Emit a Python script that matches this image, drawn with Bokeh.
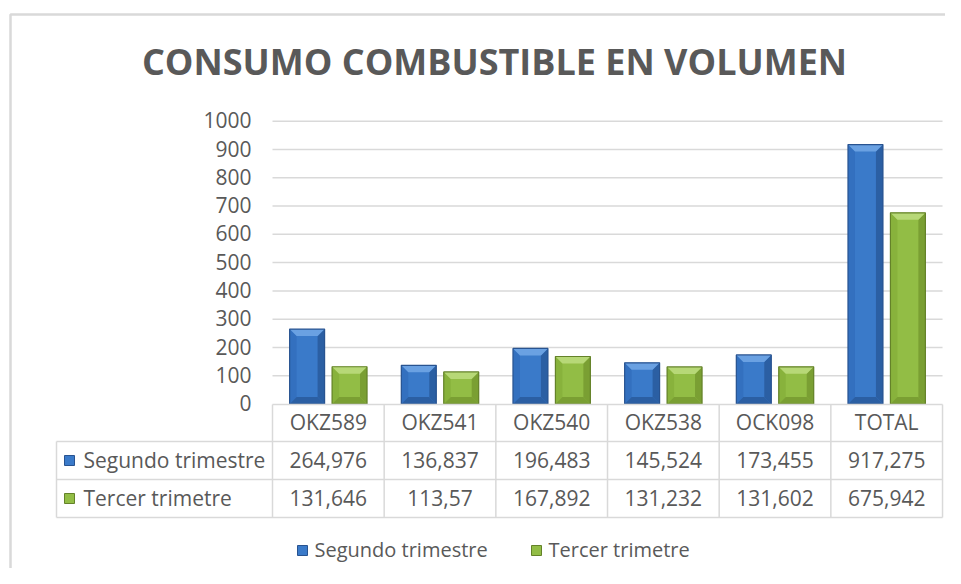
import numpy as np
from bokeh.plotting import figure
from bokeh.models import Range1d
from bokeh.embed import file_html
from bokeh.resources import INLINE
from bokeh.core.properties import value

# ---------------- data ----------------
categories = ["OKZ589", "OKZ541", "OKZ540", "OKZ538", "OCK098", "TOTAL"]
series_names = ["Segundo trimestre", "Tercer trimetre"]
segundo = [264.976, 136.837, 196.483, 145.524, 173.455, 917.275]
tercer = [131.646, 113.57, 167.892, 131.232, 131.602, 675.942]
y_ticks = [0, 100, 200, 300, 400, 500, 600, 700, 800, 900, 1000]
title_text = "CONSUMO COMBUSTIBLE EN VOLUMEN"

# ---------------- layout (pixels on screenshot) ----------------
W, H = 945, 568
O = 0                   # screenshot offset of figure origin
CAT_W = 111.67          # px per category
S = 0.2828              # px per value unit
X_LEFT = -0.5 - (272 - O) / CAT_W
Y_TOP = 1000 + (120.7 - O) / S
FS, FS_L, FS_T = 21, 20, 36
SHIFT = 0.4             # baseline correction (em) for svg text placement


def xd(px):
    return X_LEFT + (px - O) / CAT_W


def yd(py):
    return Y_TOP - (py - O) / S


def base(center_px, fs=FS):
    # pixel position to give so that the caps are centred on center_px
    return center_px + 0.357 * fs - SHIFT * fs


FONT = value("Open Sans")
TXT = "#595959"
GRID = "#d9d9d9"
BLUE = dict(main="#3a7ac9", top="#6aa1e2", side="#3370bf", bot="#2b5fa3", edge="#285390")
GREEN = dict(main="#92bd45", top="#b7d877", side="#88b23c", bot="#7a9f33", edge="#648229")

p = figure(width=W, height=H, output_backend="svg", toolbar_location=None,
           x_range=Range1d(X_LEFT, X_LEFT + W / CAT_W),
           y_range=Range1d(Y_TOP - H / S, Y_TOP),
           x_axis_type=None, y_axis_type=None, min_border=0)
p.grid.visible = False
p.outline_line_color = None
p.background_fill_color = "white"

n = len(categories)
idx = np.arange(n)

# chart border (left/top visible)
p.quad(left=[xd(10)], right=[xd(1200)], top=[yd(14)], bottom=[yd(800)],
       fill_color=None, line_color="#d9d9d9", line_width=2.5)

# title
p.text(x=[xd(494)], y=[yd(base(62.5, FS_T))], text=[title_text], text_font=FONT,
       text_font_size=f"{FS_T}px", text_font_style="bold", text_color=TXT,
       text_align="center", text_baseline="alphabetic")

# gridlines and tick labels
ticks = np.array(y_ticks, dtype=float)
p.segment(x0=np.full(len(ticks) - 1, -0.5), x1=np.full(len(ticks) - 1, n - 0.5),
          y0=ticks[1:], y1=ticks[1:], line_color=GRID, line_width=1.5)
p.text(x=np.full(len(ticks), -0.5), y=ticks, text=[str(t) for t in y_ticks],
       x_offset=-21, y_offset=base(0), text_font=FONT, text_font_size=f"{FS}px",
       text_color=TXT, text_align="right", text_baseline="alphabetic")

# bars with a bevel look
OFF, BW = 0.19, 0.313
bx, by = 7 / CAT_W, 7 / S
for vals, off, col in [(segundo, -OFF, BLUE), (tercer, OFF, GREEN)]:
    xc = idx + off
    tops = np.array(vals, dtype=float)
    L, R = xc - BW / 2, xc + BW / 2
    p.vbar(x=xc, top=tops, bottom=0, width=BW, fill_color=col["main"],
           line_color=None)
    top_xs = [[l, r, r - bx, l + bx] for l, r in zip(L, R)]
    top_ys = [[t, t, t - by, t - by] for t in tops]
    left_xs = [[l, l + bx, l + bx, l] for l in L]
    left_ys = [[t, t - by, by, 0] for t in tops]
    right_xs = [[r, r - bx, r - bx, r] for r in R]
    bot_xs = [[l, r, r - bx, l + bx] for l, r in zip(L, R)]
    bot_ys = [[0, 0, by, by] for _ in tops]
    p.patches(xs=left_xs, ys=left_ys, fill_color=col["side"], line_color=None)
    p.patches(xs=right_xs, ys=left_ys, fill_color=col["bot"], line_color=None)
    p.patches(xs=bot_xs, ys=bot_ys, fill_color=col["bot"], line_color=None)
    p.patches(xs=top_xs, ys=top_ys, fill_color=col["top"], line_color=None)
    p.vbar(x=xc, top=tops, bottom=0, width=BW, fill_color=None,
           line_color=col["edge"], line_width=1.2)

# table
rows_px = [404, 441, 479, 517]
ry = [yd(v) for v in rows_px]
p.segment(x0=[-0.5], x1=[n - 0.5], y0=[ry[0]], y1=[ry[0]], line_color=GRID, line_width=1.5)
p.segment(x0=[xd(56)] * 3, x1=[n - 0.5] * 3, y0=ry[1:], y1=ry[1:],
          line_color=GRID, line_width=1.5)
p.segment(x0=np.arange(n + 1) - 0.5, x1=np.arange(n + 1) - 0.5,
          y0=np.full(n + 1, ry[0]), y1=np.full(n + 1, ry[3]),
          line_color=GRID, line_width=1.5)
p.segment(x0=[xd(56)], x1=[xd(56)], y0=[ry[1]], y1=[ry[3]], line_color=GRID, line_width=1.5)

hdr_y = yd(base((rows_px[0] + rows_px[1]) / 2))
p.text(x=idx, y=np.full(n, hdr_y), text=categories, text_font=FONT,
       text_font_size=f"{FS}px", text_color=TXT, text_align="center",
       text_baseline="alphabetic")


def fmt(v):
    return f"{v:g}".replace(".", ",")


for r, (vals, name, col) in enumerate([(segundo, series_names[0], BLUE),
                                       (tercer, series_names[1], GREEN)]):
    mid = (rows_px[r + 1] + rows_px[r + 2]) / 2
    p.text(x=idx, y=np.full(n, yd(base(mid))), text=[fmt(v) for v in vals],
           text_font=FONT, text_font_size=f"{FS}px", text_color=TXT,
           text_align="center", text_baseline="alphabetic")
    p.scatter(x=[xd(69)], y=[yd(mid)], marker="square", size=10,
              fill_color=col["main"], line_color=col["edge"], line_width=1)
    p.text(x=[xd(83)], y=[yd(base(mid))], text=[name], text_font=FONT,
           text_font_size=f"{FS}px", text_color=TXT, text_align="left",
           text_baseline="alphabetic")

# legend
leg_y = 550
for name, sq_x, col in [(series_names[0], 302, BLUE),
                        (series_names[1], 536, GREEN)]:
    p.scatter(x=[xd(sq_x)], y=[yd(leg_y)], marker="square", size=10,
              fill_color=col["main"], line_color=col["edge"], line_width=1)
    p.text(x=[xd(sq_x + 12)], y=[yd(base(leg_y, FS_L))], text=[name], text_font=FONT,
           text_font_size=f"{FS_L}px", text_color=TXT, text_align="left",
           text_baseline="alphabetic")

open("out.html", "w").write(file_html(p, INLINE))
